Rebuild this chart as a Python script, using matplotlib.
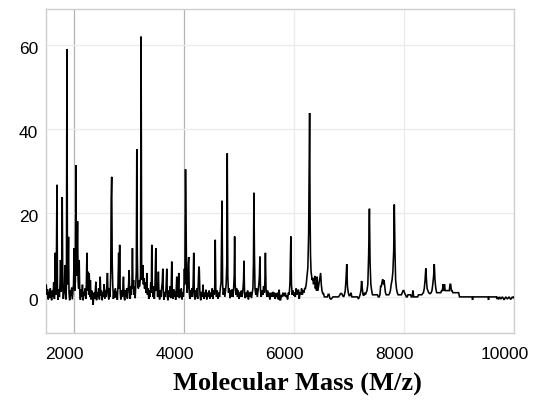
import matplotlib
matplotlib.use("Agg")
import matplotlib.pyplot as plt
import matplotlib.transforms as mtransforms

mz = [
    1505, 1515, 1528, 1540, 1552, 1565, 1578, 1590, 1603, 1615,
    1628, 1640, 1652, 1660, 1668, 1676, 1686, 1699, 1709, 1720,
    1732, 1744, 1754, 1764, 1774, 1784, 1795, 1805, 1815, 1826,
    1835, 1844, 1853, 1862, 1871, 1880, 1890, 1900, 1909, 1918,
    1930, 1942, 1954, 1966, 1978, 1990, 2000, 2013, 2024, 2034,
    2044, 2054, 2064, 2073, 2083, 2093, 2103, 2113, 2125, 2137,
    2150, 2162, 2174, 2186, 2198, 2210, 2222, 2233, 2243, 2253,
    2264, 2275, 2285, 2296, 2306, 2318, 2330, 2344, 2357, 2369,
    2381, 2394, 2406, 2418, 2430, 2443, 2456, 2470, 2484, 2496,
    2508, 2520, 2533, 2545, 2556, 2568, 2580, 2592, 2604, 2616,
    2628, 2640, 2652, 2664, 2676, 2684, 2693, 2703, 2712, 2724,
    2736, 2748, 2760, 2772, 2784, 2796, 2808, 2820, 2828, 2838,
    2848, 2860, 2872, 2884, 2896, 2907, 2918, 2930, 2942, 2954,
    2966, 2978, 2990, 3000, 3010, 3020, 3030, 3040, 3050, 3060,
    3070, 3080, 3090, 3100, 3110, 3120, 3130, 3140, 3149, 3158,
    3168, 3178, 3188, 3198, 3208, 3217, 3227, 3237, 3247, 3258,
    3268, 3278, 3290, 3302, 3314, 3324, 3331, 3342, 3354, 3366,
    3378, 3390, 3402, 3412, 3421, 3432, 3444, 3456, 3468, 3480,
    3494, 3505, 3516, 3528, 3541, 3552, 3564, 3576, 3588, 3600,
    3612, 3621, 3632, 3644, 3656, 3668, 3680, 3693, 3705, 3717,
    3729, 3741, 3753, 3765, 3775, 3784, 3795, 3807, 3819, 3831,
    3843, 3855, 3866, 3875, 3886, 3898, 3911, 3922, 3934, 3946,
    3958, 3970, 3982, 3994, 4004, 4014, 4022, 4034, 4044, 4054,
    4064, 4075, 4084, 4092, 4102, 4112, 4124, 4136, 4148, 4160,
    4172, 4183, 4194, 4206, 4218, 4230, 4242, 4254, 4265, 4276,
    4284, 4296, 4310, 4324, 4338, 4352, 4366, 4380, 4394, 4406,
    4420, 4434, 4448, 4462, 4476, 4490, 4504, 4518, 4532, 4546,
    4558, 4566, 4574, 4584, 4596, 4610, 4624, 4638, 4652, 4666,
    4680, 4696, 4708, 4720, 4734, 4748, 4760, 4772, 4784, 4792,
    4802, 4814, 4828, 4842, 4856, 4870, 4882, 4896, 4908, 4918,
    4926, 4936, 4950, 4964, 4978, 4992, 5006, 5020, 5034, 5048,
    5062, 5078, 5088, 5095, 5106, 5120, 5134, 5148, 5162, 5176,
    5190, 5204, 5218, 5232, 5246, 5258, 5268, 5276, 5286, 5296,
    5310, 5324, 5338, 5352, 5366, 5376, 5385, 5396, 5410, 5424,
    5438, 5452, 5466, 5476, 5485, 5496, 5510, 5524, 5538, 5552,
    5566, 5580, 5594, 5608, 5622, 5636, 5650, 5664, 5678, 5692,
    5706, 5720, 5735, 5748, 5762, 5776, 5790, 5804, 5818, 5832,
    5846, 5860, 5874, 5888, 5902, 5916, 5930, 5947, 5958, 5972,
    5986, 6000, 6014, 6028, 6042, 6056, 6070, 6087, 6100, 6114,
    6128, 6142, 6156, 6170, 6184, 6198, 6212, 6226, 6240, 6256,
    6270, 6280, 6288, 6296, 6304, 6314, 6324, 6334, 6346, 6358,
    6370, 6382, 6392, 6404, 6414, 6424, 6434, 6444, 6456, 6466,
    6478, 6488, 6500, 6512, 6526, 6540, 6556, 6572, 6590, 6610,
    6625, 6640, 6655, 6668, 6680, 6695, 6710, 6730, 6750, 6770,
    6790, 6810, 6830, 6850, 6870, 6890, 6905, 6920, 6935, 6948,
    6962, 6975, 6990, 7005, 7020, 7040, 7055, 7075, 7095, 7115,
    7135, 7155, 7175, 7190, 7205, 7220, 7232, 7245, 7258, 7272,
    7286, 7300, 7315, 7330, 7345, 7360, 7374, 7386, 7400, 7415,
    7430, 7445, 7460, 7475, 7490, 7505, 7520, 7535, 7550, 7565,
    7577, 7590, 7603, 7615, 7628, 7640, 7652, 7665, 7680, 7695,
    7710, 7725, 7740, 7755, 7770, 7785, 7800, 7815, 7826, 7838,
    7850, 7865, 7880, 7895, 7910, 7925, 7940, 7955, 7970, 7985,
    8000, 8015, 8030, 8045, 8060, 8075, 8090, 8105, 8120, 8135,
    8150, 8164, 8178, 8192, 8206, 8220, 8235, 8250, 8265, 8280,
    8295, 8310, 8325, 8340, 8355, 8370, 8385, 8398, 8410, 8422,
    8435, 8450, 8465, 8480, 8495, 8510, 8525, 8540, 8552, 8565,
    8580, 8595, 8610, 8625, 8640, 8655, 8670, 8685, 8700, 8712,
    8725, 8737, 8750, 8765, 8780, 8795, 8810, 8825, 8838, 8850,
    8862, 8875, 8890, 8905, 8920, 8935, 8950, 8965, 8980, 8995,
    9011, 9240, 9247, 9255, 9530, 9537, 9545, 9680, 9690, 9700,
    9720, 9740, 9760, 9790, 9820, 9850, 9880, 9910, 9940, 9970,
    9990, 10000,
]

intensity = [
    2.8, 0.5, 1.8, -0.6, 1.2, -0.3, 2.0, 0.2, -0.8, 1.5,
    0.0, 3.5, -0.5, 1.0, 10.5, 0.5, 2.5, 26.7, 1.0, -0.7,
    1.8, 0.0, 3.0, 8.8, 1.2, 4.0, 23.8, 2.0, -0.5, 1.5,
    3.0, 7.6, 1.0, -0.6, 2.5, 59.0, 3.0, 6.0, 14.3, 1.0,
    -0.8, 1.6, 0.2, 2.2, -0.6, 1.5, 3.0, 11.6, 1.5, 4.0,
    31.4, 5.0, 10.0, 18.0, 4.0, 2.0, 8.8, 1.0, -0.7, 1.8,
    0.0, 2.9, -0.8, 1.2, 0.3, 2.0, -0.5, 3.0, 10.5, 1.5,
    6.0, 0.5, 5.7, 0.0, 4.0, -0.6, 1.5, 0.0, -1.9, 1.0,
    -0.5, 1.2, 3.6, -0.8, 1.0, 0.0, 2.0, -0.6, 4.8, 0.2,
    1.5, -0.8, 1.0, 0.0, 3.0, -0.4, 1.6, 0.0, 2.5, 5.7,
    0.5, -0.6, 2.0, 0.0, 6.0, 23.6, 28.6, 8.0, 3.0, -0.5,
    1.4, -0.2, 2.0, 0.0, 1.2, -0.7, 3.0, 10.5, 2.0, 12.4,
    1.0, -0.6, 1.5, 0.0, 2.0, 4.8, 0.0, -0.8, 1.5, 0.0,
    2.0, -0.4, 1.5, 3.0, 6.4, 1.0, -0.5, 2.5, 0.5, 3.0,
    11.6, 2.0, 4.0, 0.5, 2.5, -0.3, 3.0, 6.0, 35.2, 10.5,
    3.0, 2.0, 4.0, 2.5, 3.5, 5.0, 62.0, 8.0, 4.0, 7.6,
    3.0, 4.5, 2.0, 3.5, 1.0, 2.5, 5.7, 0.5, 2.0, -0.5,
    1.5, 0.0, 3.5, 1.0, 12.4, 2.0, 0.0, 2.5, -0.5, 3.0,
    11.6, 1.5, 3.0, 0.0, 6.0, 0.5, -0.6, 1.5, 0.0, 2.0,
    3.5, 6.7, 0.5, -0.7, 1.2, 0.0, 2.0, 6.7, 0.0, -0.8,
    1.5, 0.0, 2.5, -0.3, 3.0, 8.4, 1.0, -0.5, 1.8, 0.0,
    1.2, -0.7, 2.0, 4.8, 0.0, 1.5, 5.7, -0.3, 1.0, 0.0,
    2.0, -0.6, 1.0, 0.0, 2.0, 6.7, 3.0, 30.4, 18.0, 3.0,
    1.0, 3.0, 8.0, 9.5, 1.0, -0.5, 1.5, 0.0, 2.0, 0.0,
    3.0, 10.5, 1.0, -0.6, 1.5, 0.0, 2.0, -0.5, 3.0, 7.2,
    6.7, 0.5, -0.8, 1.2, 0.0, 2.9, -0.5, 1.0, 0.0, 1.7,
    -0.6, 1.0, 0.0, 1.5, -0.4, 1.0, 0.0, 2.0, -0.5, 1.5,
    0.5, 3.0, 13.6, 2.0, 0.0, 1.5, -0.4, 1.0, 0.0, 2.0,
    3.5, 22.9, 3.0, 0.5, 2.0, 0.0, 1.5, 3.0, 8.0, 34.2,
    5.0, 1.0, 2.0, -0.3, 1.5, 0.0, 1.8, 0.0, 2.0, 5.0,
    14.4, 3.0, 0.5, 2.0, 0.0, 1.5, -0.5, 1.0, 0.0, 1.5,
    0.0, 2.0, 4.0, 8.6, 1.0, -0.3, 1.0, 0.0, 1.5, -0.6,
    1.0, 0.0, 1.2, -0.3, 1.0, 2.0, 8.0, 24.8, 10.0, 2.0,
    0.5, 2.0, 0.0, 1.5, 3.0, 5.0, 9.6, 1.5, 0.0, 1.5,
    0.5, 2.5, 1.0, 4.0, 10.5, 2.0, 0.0, 1.5, 0.0, 1.0,
    -0.6, 0.5, 1.0, 0.0, 1.2, 0.0, 1.0, -0.5, 0.8, 0.0,
    1.0, -0.6, 1.7, -0.7, -0.7, 0.5, 0.0, 1.0, 0.3, 0.3,
    1.0, 0.0, 0.3, -0.6, 1.0, 0.5, 3.0, 14.4, 3.0, 0.5,
    1.5, 0.3, 1.0, 0.0, 2.0, 0.5, 1.5, 1.7, -0.5, 1.0,
    0.5, 2.0, 0.5, 1.5, 1.0, 2.0, 2.0, 3.0, 5.0, 7.0,
    15.0, 30.0, 43.8, 20.0, 10.0, 6.0, 5.0, 4.0, 4.5, 3.0,
    3.5, 5.0, 2.0, 3.5, 1.5, 4.8, 1.5, 2.0, 3.0, 4.0,
    5.0, 5.7, 3.0, 1.5, 0.8, 0.8, 0.0, 0.0, 0.0, 0.0,
    0.6, 0.6, -0.3, -0.5, -0.5, -0.3, 0.0, 0.0, 0.0, 0.0,
    0.0, 0.0, 0.3, 0.8, 0.8, 0.3, 0.0, 0.5, 1.5, 4.0,
    7.8, 2.5, 1.0, 0.3, 0.3, 1.0, 0.0, 0.0, 0.0, 0.0,
    0.0, 0.0, -0.5, 0.0, 0.5, 1.5, 3.8, 2.0, 0.5, 0.3,
    1.0, 0.5, 1.0, 1.5, 3.0, 10.0, 21.0, 8.0, 3.0, 1.5,
    0.5, 0.5, 0.5, 0.5, 0.5, 0.5, 0.5, 0.0, 0.0, 0.5,
    2.5, 2.5, 3.5, 4.2, 3.0, 4.0, 2.5, 1.0, 0.5, 0.5,
    0.5, 0.5, 0.8, 1.5, 3.0, 4.0, 6.0, 11.0, 22.0, 11.0,
    4.0, 2.0, 1.0, 0.5, 0.5, 0.5, 0.5, 0.5, 1.0, 1.5,
    1.5, 0.8, 0.5, 0.0, 0.0, 0.5, 0.5, 0.5, 0.5, 0.0,
    0.0, 1.5, 0.0, 0.0, 0.0, 0.0, 0.0, 0.0, 0.5, 0.5,
    0.5, 0.5, 0.5, 0.8, 1.0, 2.0, 4.0, 6.8, 4.0, 2.0,
    1.5, 1.0, 0.8, 0.8, 1.0, 1.5, 3.0, 5.0, 7.8, 4.0,
    2.0, 1.0, 1.0, 1.0, 1.0, 1.0, 1.0, 1.5, 1.5, 3.0,
    1.5, 3.0, 1.5, 1.5, 1.5, 1.5, 1.5, 1.5, 3.0, 3.0,
    1.5, 1.5, 1.0, 1.0, 1.0, 1.0, 1.0, 1.0, 1.0, 1.0,
    0.0, 0.0, -0.7, 0.0, 0.0, -0.7, 0.0, 0.0, -0.5, 0.0,
    -0.6, 0.0, -0.5, 0.0, -0.7, 0.0, -0.5, 0.0, -0.6, 0.0,
    -0.3, 0.0,
]

x_ticks = [2000, 4000, 6000, 8000, 10000]
x_tick_labels = ["2000", "4000", "6000", "8000", "10000"]
y_ticks = [0, 20, 40, 60]
y_tick_labels = ["0", "20", "40", "60"]
x_label = "Molecular Mass (M/z)"

W, H = 537, 403
fig = plt.figure(figsize=(W / 100, H / 100), dpi=100)
ax = fig.add_axes([46 / W, 1 - 333 / H, (514 - 46) / W, (333 - 9.3) / H])

ax.plot(mz, intensity, color="black", lw=1.15, zorder=3,
        solid_joinstyle="miter")

ax.set_xlim(1500, 10000)
ax.set_ylim(-8.6, 68.5)
ax.set_xticks(x_ticks)
ax.set_xticklabels(x_tick_labels)
ax.set_yticks(y_ticks)
ax.set_yticklabels(y_tick_labels)

for lab in ax.get_xticklabels() + ax.get_yticklabels():
    lab.set_fontfamily("Liberation Sans")
    lab.set_fontsize(12.5)
    lab.set_color("black")

ax.tick_params(axis="both", length=0)
ax.tick_params(axis="x", pad=10)
ax.tick_params(axis="y", pad=5.5)

dx = mtransforms.ScaledTranslation(-9 / 100, 0, fig.dpi_scale_trans)
for lab in ax.get_xticklabels():
    lab.set_transform(lab.get_transform() + dx)
dy = mtransforms.ScaledTranslation(0, -3 / 100, fig.dpi_scale_trans)
for lab in ax.get_yticklabels():
    lab.set_transform(lab.get_transform() + dy)

ax.grid(True, color="#ebebeb", lw=0.9, zorder=0)
ax.set_axisbelow(True)
xgl = ax.xaxis.get_gridlines()
for i, gl in enumerate(xgl):
    if x_ticks[i] in (2000, 4000):
        gl.set_color("#b3b3b3")

for s in ax.spines.values():
    s.set_color("#cfcfcf")
    s.set_linewidth(1.0)

fig.text(297 / W, 1 - 383 / H, x_label, ha="center", va="center",
         fontsize=19, fontweight="bold", family="Liberation Serif")

fig.savefig("out.png", dpi=100)
